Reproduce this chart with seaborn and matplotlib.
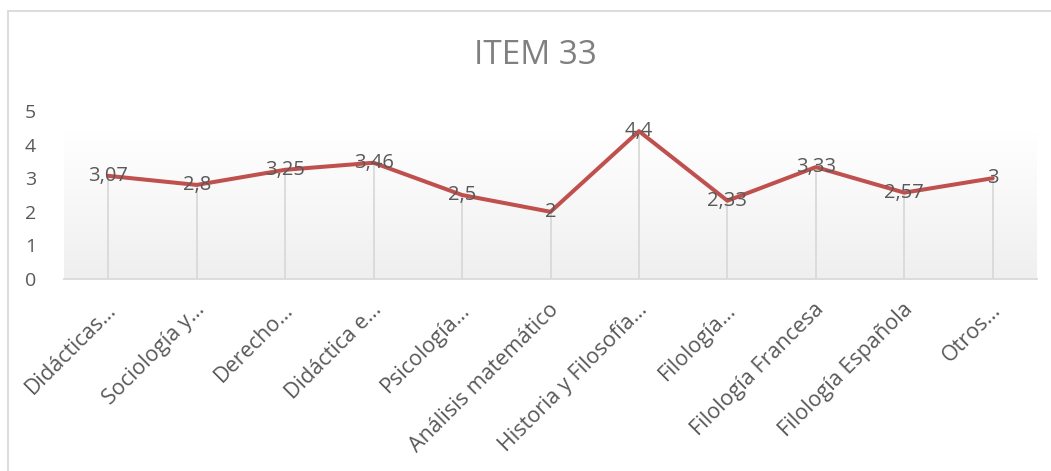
import numpy as np
import pandas as pd
import seaborn as sns
import matplotlib
matplotlib.use("Agg")
import matplotlib.pyplot as plt
from matplotlib.lines import Line2D

categories = ["Didácticas…", "Sociología y…", "Derecho…", "Didáctica e…",
              "Psicología…", "Análisis matemático", "Historia y Filosofía…",
              "Filología…", "Filología Francesa", "Filología Española", "Otros…"]
values = [3.07, 2.8, 3.25, 3.46, 2.5, 2, 4.4, 2.33, 3.33, 2.57, 3]
yticks = [0, 1, 2, 3, 4, 5]
title = "ITEM 33"

sns.set_theme(style="white")
plt.rcParams['font.family'] = ['Open Sans', 'DejaVu Sans']

W, H = 1051, 471
fig = plt.figure(figsize=(W / 100, H / 100), dpi=100)
ax = fig.add_axes([64 / W, 1 - 279 / H, (1037 - 64) / W, (279 - 111) / H])

df = pd.DataFrame({"cat": range(len(categories)), "val": values})

# gradient plot area background
grad = np.linspace(0, 1, 256).reshape(-1, 1)
cmap = matplotlib.colors.LinearSegmentedColormap.from_list("g", ["#ffffff", "#efefef"])
ax.imshow(grad, cmap=cmap, aspect="auto", extent=(-0.5, 10.5, 0, 4.37),
          origin="upper", zorder=0)

ax.vlines(df["cat"], 0, df["val"], color="#d9d9d9", lw=1.3, zorder=1)
sns.lineplot(data=df, x="cat", y="val", color="#c0504d", lw=2.9, ax=ax, zorder=3)

for x, v in zip(df["cat"], values):
    ax.text(x, v, f"{v:g}".replace(".", ","), ha="center", va="center",
            fontsize=14.5, color="#595959", zorder=4)

ax.set_xlim(-0.5, 10.5)
ax.set_ylim(0, 5)
ax.set_yticks(yticks)
ax.set_xticks(range(len(categories)))
ax.set_xticklabels(categories, rotation=45, ha="right", va="center",
                   rotation_mode="anchor")
ax.tick_params(axis="y", length=0, pad=20, labelsize=14, labelcolor="#595959")
ax.tick_params(axis="x", length=0, pad=20, labelsize=15.5, labelcolor="#595959")
for lab in ax.get_xticklabels():
    lab.set_transform(lab.get_transform() + matplotlib.transforms.ScaledTranslation(5 / 100, 0, fig.dpi_scale_trans))
ax.set_xlabel("")
ax.set_ylabel("")
for s in ["top", "right", "left"]:
    ax.spines[s].set_visible(False)
ax.spines["bottom"].set_color("#d9d9d9")
ax.spines["bottom"].set_linewidth(1.3)
ax.spines["bottom"].set_zorder(2)
ax.patch.set_alpha(0)

fig.text(535 / W, 1 - 55 / H, title, ha="center", va="center", fontsize=24,
         color="#808080")

# chart border (left and top edges visible)
fig.add_artist(Line2D([7.5 / W, 7.5 / W], [0, 1 - 10.5 / H], color="#d9d9d9", lw=1.3))
fig.add_artist(Line2D([7.5 / W, 1], [1 - 10.5 / H, 1 - 10.5 / H], color="#d9d9d9", lw=1.3))

fig.savefig("out.png", dpi=100)
